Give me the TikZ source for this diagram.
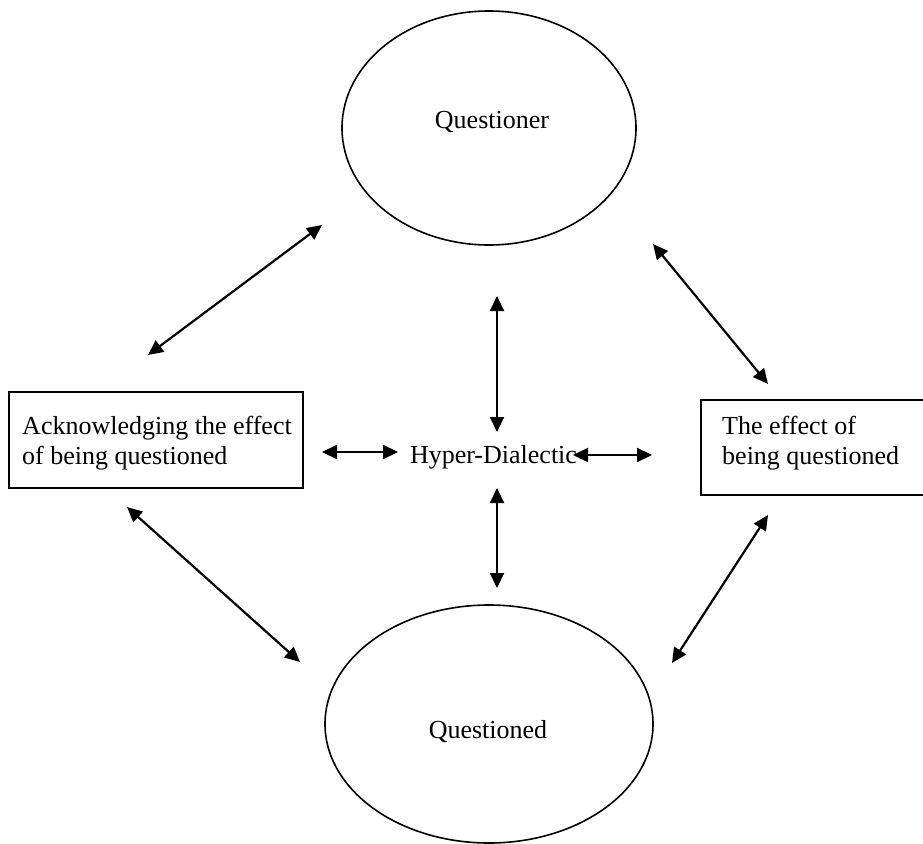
\documentclass[tikz,border=0pt]{standalone}
\usepackage{fontspec}
\setmainfont{Liberation Serif}
\usetikzlibrary{arrows.meta,shapes.geometric}
\begin{document}
\begin{tikzpicture}[x=1pt,y=-1pt,
  txt/.style={font=\fontsize{26}{30}\selectfont, inner sep=0pt},
  ell/.style={draw, ellipse, line width=1.6pt, inner sep=0pt},
  boxr/.style={draw, rectangle, line width=1.6pt, inner sep=0pt},
  conn/.style={{Triangle[length=15pt,width=14pt]}-{Triangle[length=15pt,width=14pt]}, line width=2.2pt}]
\useasboundingbox (0,0) rectangle (923,843);
\clip (0,0) rectangle (923,843);
% shapes
\node[ell, minimum width=294pt, minimum height=234pt] (qr) at (489,128) {};
\node[ell, minimum width=328pt, minimum height=238pt] (qd) at (489,724) {};
\node[boxr, minimum width=294pt, minimum height=96pt] (lb) at (156,440) {};
\node[boxr, minimum width=240pt, minimum height=95pt] (rb) at (821,447.5) {};
% texts
\node[txt, anchor=base] (tqr) at (492,128) {Questioner};
\node[txt, anchor=base] (tqd) at (488,738) {Questioned};
\node[txt, align=left] (tlb) at (157,443) {Acknowledging the effect\\of being questioned};
\node[txt, align=left, anchor=west] (trb) at (722,443) {The effect of\\being questioned};
\node[txt, anchor=base] (hd) at (493.5,463) {Hyper-Dialectic};
% arrow end points
\coordinate (a1s) at (148,355); \coordinate (a1e) at (322,225);
\coordinate (a2s) at (653,244); \coordinate (a2e) at (768,384);
\coordinate (a3s) at (127,507); \coordinate (a3e) at (300,662);
\coordinate (a4s) at (768,515); \coordinate (a4e) at (672,663);
\coordinate (v1s) at (497,296); \coordinate (v1e) at (497,432);
\coordinate (v2s) at (497,488); \coordinate (v2e) at (497,588);
\coordinate (h1s) at (322,452); \coordinate (h1e) at (398,452);
\coordinate (h2s) at (573,455); \coordinate (h2e) at (652,455);
% connectors
\draw[conn] (a1s) -- (a1e);
\draw[conn] (a2s) -- (a2e);
\draw[conn] (a3s) -- (a3e);
\draw[conn] (a4s) -- (a4e);
\draw[conn] (v1s) -- (v1e);
\draw[conn] (v2s) -- (v2e);
\draw[conn] (h1s) -- (h1e);
\draw[conn] (h2s) -- (h2e);
\end{tikzpicture}
\end{document}
